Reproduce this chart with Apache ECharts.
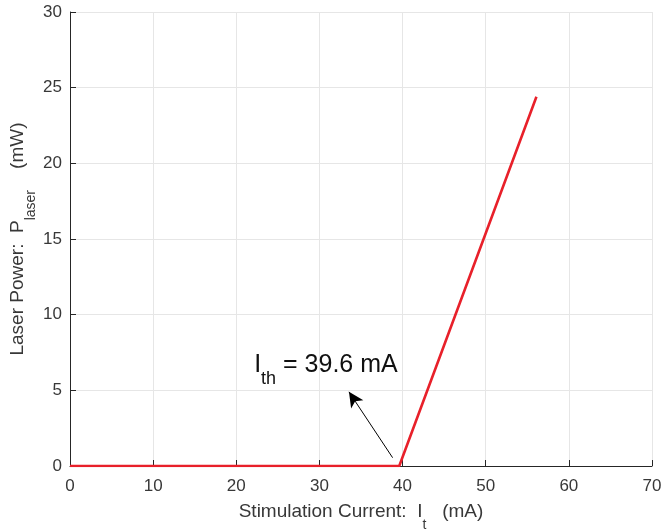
<!DOCTYPE html>
<html><head><meta charset="utf-8">
<script src="https://cdn.jsdelivr.net/npm/echarts@6/dist/echarts.min.js"></script>
<style>html,body{margin:0;padding:0;background:#fff}#c{width:662px;height:529px}</style>
</head><body><div id="c"></div>
<script>
// Data
const current = [0, 39.6, 56.1];          // mA
const power = [0, 0, 24.4];               // mW
const xTickValues = [0, 10, 20, 30, 40, 50, 60, 70];
const yTickValues = [0, 5, 10, 15, 20, 25, 30];
const thresholdLabel = '39.6 mA';
const arrowFrom = [38.8, 0.55];
const arrowTo = [33.55, 4.9];
const labelAnchor = [22.15, 6.55];

const FONT = '"Liberation Sans", Arial, Helvetica, sans-serif';
const TXT = '#383838';
const AX = '#262626';

const chart = echarts.init(document.getElementById('c'), null, {renderer: 'canvas'});
const seriesData = current.map((c, i) => [c, power[i]]);

const option = {
  animation: false,
  backgroundColor: '#fff',
  grid: {left: 70, right: 10, top: 12, bottom: 63, containLabel: false, outerBoundsMode: 'none'},
  xAxis: {
    type: 'value', min: xTickValues[0], max: xTickValues[xTickValues.length - 1], interval: 10,
    axisLine: {show: true, onZero: false, lineStyle: {color: AX, width: 1}},
    axisTick: {show: true, inside: true, length: 6, lineStyle: {color: AX}},
    axisLabel: {color: TXT, fontSize: 17, fontFamily: FONT, margin: 12},
    splitLine: {show: true, lineStyle: {color: '#e6e6e6', width: 1}},
    name: '{m|Stimulation Current:  I}{s|t}{m|   (mA)}',
    nameLocation: 'middle', nameGap: 36,
    nameTextStyle: {
      fontFamily: FONT, color: TXT,
      rich: {
        m: {fontSize: 19, lineHeight: 22, verticalAlign: 'top', fontFamily: FONT, color: TXT},
        s: {fontSize: 14, lineHeight: 14, verticalAlign: 'top', padding: [16, 0, 0, 0], fontFamily: FONT, color: TXT}
      }
    }
  },
  yAxis: {
    type: 'value', min: yTickValues[0], max: yTickValues[yTickValues.length - 1], interval: 5,
    axisLine: {show: true, onZero: false, lineStyle: {color: AX, width: 1}},
    axisTick: {show: true, inside: true, length: 6, lineStyle: {color: AX}},
    axisLabel: {color: TXT, fontSize: 17, fontFamily: FONT, margin: 8},
    splitLine: {show: true, lineStyle: {color: '#e6e6e6', width: 1}},
    name: '{m|Laser Power:  P}{s|laser}{m|    (mW)}',
    nameLocation: 'middle', nameGap: 40, nameMoveOverlap: false,
    nameTextStyle: {
      fontFamily: FONT, color: TXT,
      rich: {
        m: {fontSize: 19, lineHeight: 22, verticalAlign: 'top', fontFamily: FONT, color: TXT},
        s: {fontSize: 14, lineHeight: 14, verticalAlign: 'top', padding: [16, 0, 0, 0], fontFamily: FONT, color: TXT}
      }
    }
  },
  series: [{
    type: 'line', data: seriesData, showSymbol: false, symbol: 'none',
    lineStyle: {color: '#e8202a', width: 2.6},
    z: 5,
    markLine: {
      silent: true, animation: false,
      symbol: ['none', 'arrow'], symbolSize: [11, 15],
      label: {show: false},
      lineStyle: {color: '#000', width: 1, type: 'solid'},
      data: [[{coord: arrowFrom}, {coord: arrowTo}]]
    }
  }]
};
chart.setOption(option);

const p = chart.convertToPixel({gridIndex: 0}, labelAnchor);
chart.setOption({
  graphic: [{
    type: 'text', x: p[0], y: p[1], z: 10,
    style: {
      text: '{m|I}{s|th}{m| = ' + thresholdLabel + '}',
      align: 'left', verticalAlign: 'middle',
      rich: {
        m: {fontSize: 25, lineHeight: 28, verticalAlign: 'top', fontFamily: FONT, fill: '#111'},
        s: {fontSize: 18, lineHeight: 18, verticalAlign: 'top', padding: [17, 0, 0, 0], fontFamily: FONT, fill: '#111'}
      }
    }
  }]
});
</script></body></html>
